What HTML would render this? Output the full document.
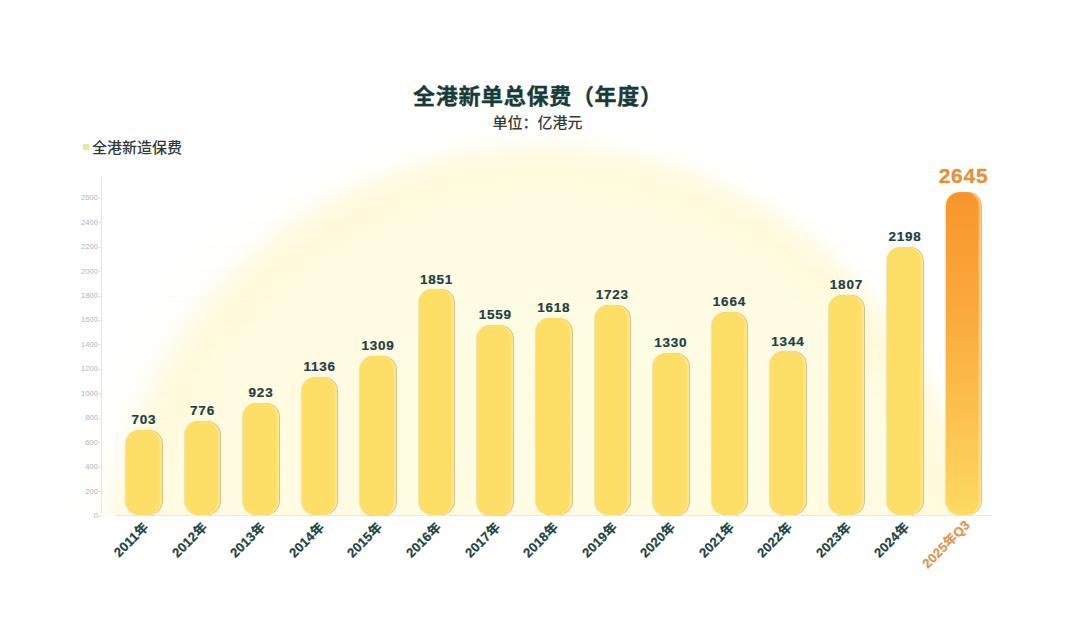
<!DOCTYPE html>
<html lang="zh-CN">
<head>
<meta charset="utf-8">
<title>全港新单总保费（年度）</title>
<style>
  html, body { margin: 0; padding: 0; }
  body { width: 1080px; height: 617px; position: relative; overflow: hidden; background: #ffffff;
         font-family: "Liberation Sans", "Noto Sans CJK SC", sans-serif; }
  .glow { position: absolute; left: 0; top: 0; width: 1080px; height: 516px; overflow: hidden;
         background: radial-gradient(circle 462px at 542px 579px, #fffce6 0px, #fffce3 378px, #fffadb 408px, #fffbe4 426px, rgba(255,252,236,0.55) 438px, rgba(255,253,242,0.2) 449px, rgba(255,255,255,0) 462px); }
  .glow2 { position: absolute; left: 0; top: 0; width: 1080px; height: 516px; overflow: hidden;
         background: radial-gradient(circle 490px at 542px 579px, rgba(255,250,222,0.5) 0px, rgba(255,250,222,0.5) 405px, rgba(255,250,225,0.2) 440px, rgba(255,251,230,0.06) 468px, rgba(255,255,255,0) 490px);
         -webkit-mask-image: linear-gradient(to right, #000 0px, #000 190px, rgba(0,0,0,0) 400px); mask-image: linear-gradient(to right, #000 0px, #000 190px, rgba(0,0,0,0) 400px); }
  .title { position: absolute; left: 413px; top: 82px; font-size: 22px; font-weight: bold; -webkit-text-stroke: 0.35px #173b38; color: #173b38; line-height: 30px; letter-spacing: 0.7px; white-space: nowrap; }
  .sub { position: absolute; left: 0; width: 1075px; top: 112.5px; text-align: center; font-size: 15px; font-weight: 500; color: #333b39; line-height: 20px; }
  .legend { position: absolute; left: 92px; top: 137.5px; font-size: 15px; font-weight: 500; color: #2e3a37; line-height: 20px; }
  .legend-dot { position: absolute; left: 83px; top: 144px; width: 6px; height: 6px; background: #ebe6a0; box-shadow: 0 0 1px #f0ecb8; }
  .yaxis { position: absolute; left: 101px; top: 177px; width: 1px; height: 336px; background: #e6e6e6; }
  .xaxis { position: absolute; left: 116px; top: 515px; width: 876px; height: 1px; background: #e8e8e8; }
  .grid { position: absolute; left: 116px; width: 876px; height: 1px; background: rgba(0,0,0,0.006); }
  .tick { position: absolute; left: 98px; width: 3px; height: 1px; background: #e4e4e4; }
  .ylab { position: absolute; right: 982px; font-size: 7.6px; color: #b4b4b4; line-height: 10px; text-align: right; }
  .bar { position: absolute; width: 35.5px; border-radius: 14px; background: #fdde66;
         box-shadow: 0.8px 0 0.4px rgba(150,125,50,0.55), -0.5px 0 1px rgba(215,205,110,0.5), inset -3px 0 2px -1px rgba(255,240,175,0.6); }
  .bar.last { background: linear-gradient(to bottom, #f8952d 0%, #faa83c 35%, #fcc250 70%, #fdda62 100%); }
  .val { position: absolute; width: 80px; text-align: center; font-size: 13.5px; font-weight: bold; color: #1d3f45; -webkit-text-stroke: 0.2px currentColor; line-height: 16px; letter-spacing: 0.75px; }
  .val.last { font-size: 21px; color: #e2913c; line-height: 24px; -webkit-text-stroke: 0.3px currentColor; }
  .xl { position: absolute; font-size: 13px; font-weight: bold; color: #1d4543; -webkit-text-stroke: 0.25px currentColor; line-height: 14px; white-space: nowrap; letter-spacing: 0.25px;
        transform-origin: 100% 50%; transform: rotate(-45deg); text-align: right; }
  .xl.last { color: #de9550; }
</style>
</head>
<body>
<div class="glow"></div>
<div class="glow2"></div>

<div class="title">全港新单总保费（年度）</div>
<div class="sub">单位：亿港元</div>
<div class="legend-dot"></div>
<div class="legend">全港新造保费</div>

<div class="yaxis"></div>
<div class="xaxis"></div>
<!--CHART-->
<div id="chart">
<div class="ylab" style="top:510.9px">0</div>
<div class="tick" style="top:515.5px"></div>
<div class="ylab" style="top:486.5px">200</div>
<div class="tick" style="top:491.1px"></div>
<div class="grid" style="top:491.1px"></div>
<div class="ylab" style="top:462.0px">400</div>
<div class="tick" style="top:466.6px"></div>
<div class="grid" style="top:466.6px"></div>
<div class="ylab" style="top:437.6px">600</div>
<div class="tick" style="top:442.2px"></div>
<div class="grid" style="top:442.2px"></div>
<div class="ylab" style="top:413.1px">800</div>
<div class="tick" style="top:417.7px"></div>
<div class="grid" style="top:417.7px"></div>
<div class="ylab" style="top:388.7px">1000</div>
<div class="tick" style="top:393.3px"></div>
<div class="grid" style="top:393.3px"></div>
<div class="ylab" style="top:364.3px">1200</div>
<div class="tick" style="top:368.9px"></div>
<div class="grid" style="top:368.9px"></div>
<div class="ylab" style="top:339.8px">1400</div>
<div class="tick" style="top:344.4px"></div>
<div class="grid" style="top:344.4px"></div>
<div class="ylab" style="top:315.4px">1600</div>
<div class="tick" style="top:320.0px"></div>
<div class="grid" style="top:320.0px"></div>
<div class="ylab" style="top:290.9px">1800</div>
<div class="tick" style="top:295.5px"></div>
<div class="grid" style="top:295.5px"></div>
<div class="ylab" style="top:266.5px">2000</div>
<div class="tick" style="top:271.1px"></div>
<div class="grid" style="top:271.1px"></div>
<div class="ylab" style="top:242.1px">2200</div>
<div class="tick" style="top:246.7px"></div>
<div class="grid" style="top:246.7px"></div>
<div class="ylab" style="top:217.6px">2400</div>
<div class="tick" style="top:222.2px"></div>
<div class="grid" style="top:222.2px"></div>
<div class="ylab" style="top:193.2px">2600</div>
<div class="tick" style="top:197.8px"></div>
<div class="grid" style="top:197.8px"></div>
<div class="bar" style="left:126.2px;top:429.6px;height:85.9px"></div>
<div class="val" style="left:103.9px;top:411.8px">703</div>
<div class="xl" style="right:933.5px;top:518.0px">2011年</div>
<div class="bar" style="left:184.7px;top:420.7px;height:94.8px"></div>
<div class="val" style="left:162.5px;top:402.9px">776</div>
<div class="xl" style="right:875.0px;top:518.0px">2012年</div>
<div class="bar" style="left:243.3px;top:402.7px;height:112.8px"></div>
<div class="val" style="left:221.0px;top:384.9px">923</div>
<div class="xl" style="right:816.5px;top:518.0px">2013年</div>
<div class="bar" style="left:301.8px;top:376.7px;height:138.8px"></div>
<div class="val" style="left:279.6px;top:358.9px">1136</div>
<div class="xl" style="right:757.9px;top:518.0px">2014年</div>
<div class="bar" style="left:360.4px;top:355.5px;height:160.0px"></div>
<div class="val" style="left:338.1px;top:337.7px">1309</div>
<div class="xl" style="right:699.4px;top:518.0px">2015年</div>
<div class="bar" style="left:418.9px;top:289.3px;height:226.2px"></div>
<div class="val" style="left:396.6px;top:271.5px">1851</div>
<div class="xl" style="right:640.9px;top:518.0px">2016年</div>
<div class="bar" style="left:477.4px;top:325.0px;height:190.5px"></div>
<div class="val" style="left:455.2px;top:307.2px">1559</div>
<div class="xl" style="right:582.3px;top:518.0px">2017年</div>
<div class="bar" style="left:536.0px;top:317.8px;height:197.7px"></div>
<div class="val" style="left:513.7px;top:300.0px">1618</div>
<div class="xl" style="right:523.8px;top:518.0px">2018年</div>
<div class="bar" style="left:594.5px;top:304.9px;height:210.6px"></div>
<div class="val" style="left:572.3px;top:287.1px">1723</div>
<div class="xl" style="right:465.2px;top:518.0px">2019年</div>
<div class="bar" style="left:653.1px;top:353.0px;height:162.5px"></div>
<div class="val" style="left:630.8px;top:335.2px">1330</div>
<div class="xl" style="right:406.7px;top:518.0px">2020年</div>
<div class="bar" style="left:711.6px;top:312.2px;height:203.3px"></div>
<div class="val" style="left:689.4px;top:294.4px">1664</div>
<div class="xl" style="right:348.1px;top:518.0px">2021年</div>
<div class="bar" style="left:770.1px;top:351.3px;height:164.2px"></div>
<div class="val" style="left:747.9px;top:333.5px">1344</div>
<div class="xl" style="right:289.6px;top:518.0px">2022年</div>
<div class="bar" style="left:828.7px;top:294.7px;height:220.8px"></div>
<div class="val" style="left:806.4px;top:276.9px">1807</div>
<div class="xl" style="right:231.1px;top:518.0px">2023年</div>
<div class="bar" style="left:887.2px;top:246.9px;height:268.6px"></div>
<div class="val" style="left:865.0px;top:229.1px">2198</div>
<div class="xl" style="right:172.5px;top:518.0px">2024年</div>
<div class="bar last" style="left:945.8px;top:192.3px;height:323.2px"></div>
<div class="val last" style="left:923.5px;top:163.8px">2645</div>
<div class="xl last" style="right:111.5px;top:516.0px">2025年Q3</div>
</div>
<!--/CHART-->
</body>
</html>
